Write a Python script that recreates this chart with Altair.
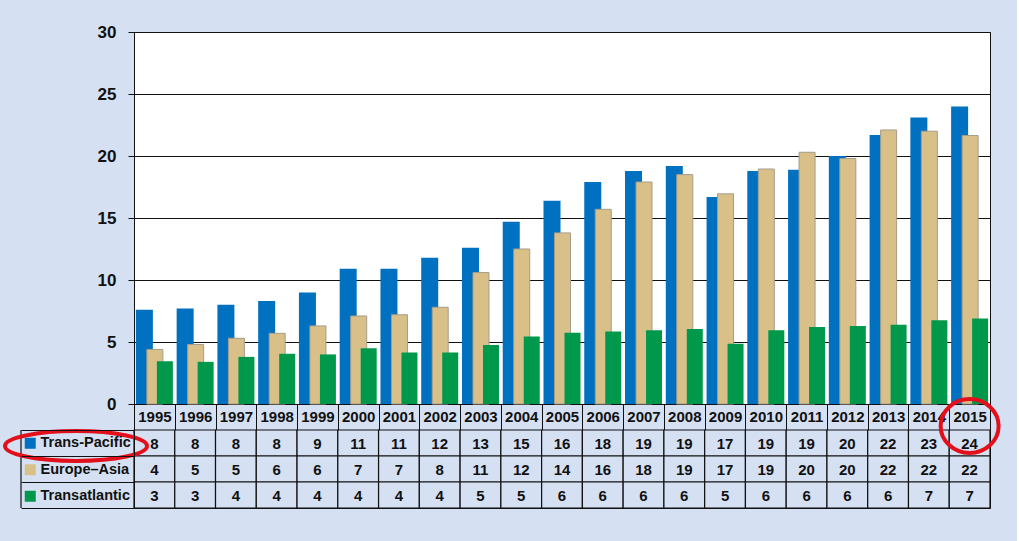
import altair as alt
import pandas as pd

years = ["1995", "1996", "1997", "1998", "1999", "2000", "2001", "2002", "2003", "2004",
         "2005", "2006", "2007", "2008", "2009", "2010", "2011", "2012", "2013", "2014", "2015"]
series = ["Trans-Pacific", "Europe–Asia", "Transatlantic"]
colors = ["#0070c0", "#d8c088", "#00994c"]

# bar heights
tp_bar = [7.6, 7.7, 8.0, 8.3, 9.0, 10.9, 10.9, 11.8, 12.6, 14.7, 16.4, 17.9, 18.8, 19.2, 16.7, 18.8, 18.9, 20.0, 21.7, 23.1, 24.0]
ea_bar = [4.4, 4.8, 5.3, 5.7, 6.3, 7.1, 7.2, 7.8, 10.6, 12.5, 13.8, 15.7, 17.9, 18.5, 16.95, 18.95, 20.3, 19.8, 22.1, 22.0, 21.65]
ta_bar = [3.45, 3.4, 3.8, 4.05, 4.0, 4.5, 4.15, 4.15, 4.75, 5.45, 5.75, 5.85, 5.95, 6.05, 4.85, 5.95, 6.2, 6.3, 6.4, 6.75, 6.9]

# table values
tp_tab = [8, 8, 8, 8, 9, 11, 11, 12, 13, 15, 16, 18, 19, 19, 17, 19, 19, 20, 22, 23, 24]
ea_tab = [4, 5, 5, 6, 6, 7, 7, 8, 11, 12, 14, 16, 18, 19, 17, 19, 20, 20, 22, 22, 22]
ta_tab = [3, 3, 4, 4, 4, 4, 4, 4, 5, 5, 6, 6, 6, 6, 5, 6, 6, 6, 6, 7, 7]

bar_df = pd.DataFrame({
    "year": years * 3,
    "series": [series[0]] * 21 + [series[1]] * 21 + [series[2]] * 21,
    "value": tp_bar + ea_bar + ta_bar,
})
tab_df = pd.DataFrame({
    "year": years * 3,
    "series": [series[0]] * 21 + [series[1]] * 21 + [series[2]] * 21,
    "label": [str(v) for v in tp_tab + ea_tab + ta_tab],
})

FONT = "Liberation Sans"
BG = "#d5e0f3"
INK = "#111111"
RED = "#e3101c"

xscale = alt.Scale(domain=years, paddingInner=0, paddingOuter=0)
cscale = alt.Scale(domain=series, range=colors)

xaxis = alt.Axis(title=None, labelAngle=0, labelFont=FONT, labelFontSize=15, labelFontWeight="bold",
                 labelColor=INK, tickBand="extent", tickSize=26, tickColor=INK, domainColor=INK,
                 labelPadding=-21, grid=False)
yaxis = alt.Axis(title=None, values=[0, 5, 10, 15, 20, 25, 30], labelFont=FONT,
                 labelFontSize=17, labelFontWeight="bold", labelColor=INK, tickSize=6,
                 labelPadding=12, tickColor=INK, domainColor=INK, grid=True, gridColor=INK,
                 gridOpacity=1)
legend = alt.Legend(orient="none", legendX=-111, legendY=404, title=None, symbolType="square",
                    symbolSize=121, symbolStrokeWidth=0, labelFont=FONT, labelFontSize=14.5,
                    labelFontWeight="bold", labelColor=INK, rowPadding=11.5, labelOffset=3, padding=0,
                    symbolOpacity=1)

offsets = {series[0]: (-10, 17), series[1]: (0.5, 16), series[2]: (10.5, 16)}
layers = []
for s in series:
    off, w = offsets[s]
    extra = {}
    if s == series[1]:
        extra = {"stroke": "#a59c8c", "strokeWidth": 1}
    layers.append(
        alt.Chart(bar_df).transform_filter(alt.datum.series == s)
        .mark_bar(width=w, xOffset=off, opacity=1, **extra)
        .encode(
            x=alt.X("year:N", scale=xscale, sort=years, axis=xaxis),
            y=alt.Y("value:Q", scale=alt.Scale(domain=[0, 30]), axis=yaxis),
            color=alt.Color("series:N", scale=cscale, legend=legend),
        )
    )

top = alt.layer(*layers).properties(
    width=856, height=372, view=alt.ViewBackground(fill="white", stroke=INK, strokeWidth=1)
)

yscale_t = alt.Scale(domain=series, paddingInner=0, paddingOuter=0)
yaxis_t = alt.Axis(title=None, labels=False, tickBand="extent", tickSize=113, tickColor=INK,
                   domainColor=INK, grid=False)

cells = alt.Chart(tab_df).mark_rect(fill=BG, stroke=INK, strokeWidth=1.2, strokeJoin="round").encode(
    x=alt.X("year:N", scale=xscale, sort=years, axis=None),
    y=alt.Y("series:N", scale=yscale_t, sort=series, axis=yaxis_t),
)
texts = alt.Chart(tab_df).mark_text(font=FONT, fontSize=15, fontWeight="bold", color=INK,
                                    baseline="middle", align="center", dy=1).encode(
    x=alt.X("year:N", scale=xscale, sort=years, axis=None),
    y=alt.Y("series:N", scale=yscale_t, sort=series, axis=yaxis_t),
    text="label:N",
)
one = pd.DataFrame({"k": [0]})
left_rule = alt.Chart(one).mark_rule(color=INK, strokeWidth=1.2).encode(
    x=alt.value(-113), y=alt.value(0), y2=alt.value(78)
)
ellipse_path = "M-1,0A1,0.21 0 1,1 1,0A1,0.21 0 1,1 -1,0"
ellipse = alt.Chart(one).mark_point(
    shape=ellipse_path, size=20164, filled=False, stroke=RED, strokeWidth=4, opacity=1,
    strokeJoin="round"
).encode(x=alt.value(-58), y=alt.value(16))

circle_path = "M-1,0A1,0.93 0 1,1 1,0A1,0.93 0 1,1 -1,0"
circle = alt.Chart(pd.DataFrame({"year": ["2015"]})).mark_point(
    shape=circle_path, size=3364, filled=False, stroke=RED, strokeWidth=4, opacity=1,
    strokeJoin="round"
).encode(x=alt.X("year:N", scale=xscale, sort=years, axis=None), y=alt.value(-4))

bottom = alt.layer(cells, texts, left_rule, ellipse, circle).properties(
    width=856, height=78, view=alt.ViewBackground(fill=BG, stroke=INK, strokeWidth=1)
)

chart = alt.vconcat(top, bottom, spacing=26, bounds="flush").resolve_scale(
    x="independent", y="independent"
).properties(
    background=BG, padding={"left": 2, "top": 22, "right": 15, "bottom": 32}
)

chart.save("out.html", embed_options={"renderer": "svg", "actions": False})
